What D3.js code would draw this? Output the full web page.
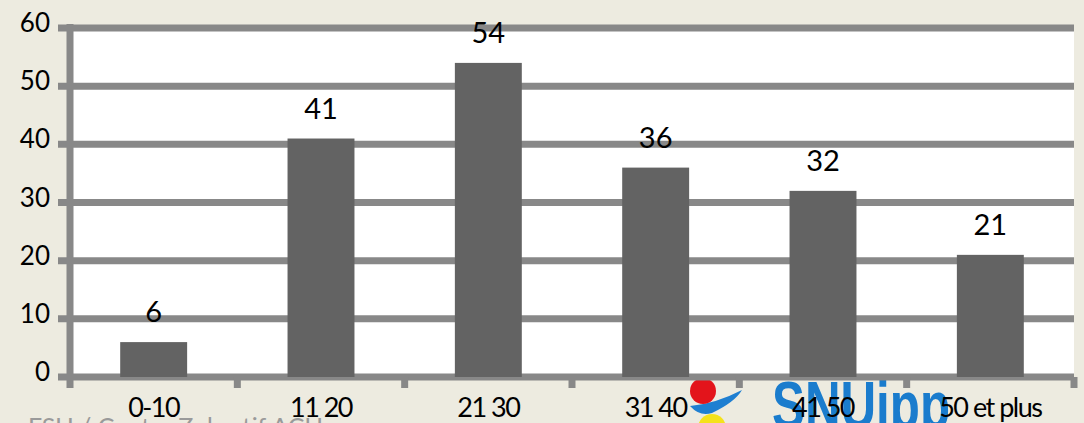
<!DOCTYPE html>
<html>
<head>
<meta charset="utf-8">
<script src="https://cdn.jsdelivr.net/npm/d3@7"></script>
<style>
  html, body { margin: 0; padding: 0; background: #edebe0; }
  svg { display: block; }
</style>
</head>
<body>
<script>
// chart data
var categories = ["0-10", "11 20", "21 30", "31 40", "41 50", "50 et plus"];
var values = [6, 41, 54, 36, 32, 21];
var yTicks = [0, 10, 20, 30, 40, 50, 60];

var w = 1084, h = 423;
var plotLeft = 70, plotRight = 1074, plotTop = 28, plotBottom = 377;
var grid = "#888888", barColor = "#636363";
var font = "Lato, 'Open Sans', sans-serif";

var svg = d3.select("body").append("svg")
    .attr("width", w)
    .attr("height", h);

// scales
var x = d3.scaleBand()
    .domain(categories)
    .range([plotLeft, plotRight])
    .paddingInner(0.6)
    .paddingOuter(0.3);

var y = d3.scaleLinear()
    .domain([0, 60])
    .range([plotBottom, plotTop]);

// logo behind the labels (partly cut by the window)
var logo = svg.append("g");
logo.append("path")
    .attr("d", "M690,406 Q715,404 742,390 Q735,402 712,413 Q700,417 690,406 Z")
    .attr("fill", "#1f7fd1");
logo.append("circle").attr("cx", 712).attr("cy", 428).attr("r", 14).attr("fill", "#f5e21b");
logo.append("circle").attr("cx", 703).attr("cy", 391).attr("r", 13).attr("fill", "#e3141b");
logo.append("text")
    .attr("x", 772).attr("y", 428)
    .attr("textLength", 178)
    .attr("lengthAdjust", "spacingAndGlyphs")
    .style("font-family", "'Liberation Sans', Arial, sans-serif")
    .style("font-weight", "bold")
    .style("font-size", "66px")
    .attr("fill", "#1a7ccd")
    .text("SNUipp");

// faint source line at the bottom
svg.append("text")
    .attr("x", 28).attr("y", 436)
    .style("font-family", font)
    .style("font-size", "25px")
    .attr("fill", "#9a9a9a")
    .text("FSU / Centre Zobratif ACU");

// plot area
svg.append("rect")
    .attr("x", plotLeft).attr("y", plotTop)
    .attr("width", plotRight - plotLeft).attr("height", plotBottom - plotTop)
    .attr("fill", "#ffffff");

// gridlines (stretch left to form the y ticks)
svg.selectAll("line.grid")
    .data(yTicks)
    .enter()
    .append("line")
    .attr("class", "grid")
    .attr("x1", plotLeft - 12)
    .attr("x2", plotRight)
    .attr("y1", function(d) { return y(d); })
    .attr("y2", function(d) { return y(d); })
    .attr("stroke", grid)
    .attr("stroke-width", 7);

// y axis line
svg.append("line")
    .attr("x1", plotLeft).attr("x2", plotLeft)
    .attr("y1", plotTop - 4).attr("y2", plotBottom + 11)
    .attr("stroke", grid)
    .attr("stroke-width", 7);

// category ticks at band edges
var edges = d3.range(1, categories.length + 1).map(function(i) { return plotLeft + i * x.step(); });
svg.selectAll("line.xtick")
    .data(edges)
    .enter()
    .append("line")
    .attr("class", "xtick")
    .attr("x1", function(d) { return Math.min(d, plotRight + 1); })
    .attr("x2", function(d) { return Math.min(d, plotRight + 1); })
    .attr("y1", plotBottom)
    .attr("y2", plotBottom + 11)
    .attr("stroke", grid)
    .attr("stroke-width", 7);

// bars
svg.selectAll("rect.bar")
    .data(values)
    .enter()
    .append("rect")
    .attr("class", "bar")
    .attr("x", function(d, i) { return x(categories[i]); })
    .attr("y", function(d) { return y(d); })
    .attr("width", x.bandwidth())
    .attr("height", function(d) { return y(0) - y(d); })
    .attr("fill", barColor);

// value labels
svg.selectAll("text.val")
    .data(values)
    .enter()
    .append("text")
    .attr("class", "val")
    .attr("x", function(d, i) { return x(categories[i]) + x.bandwidth() / 2; })
    .attr("y", function(d) { return y(d) - 20; })
    .attr("text-anchor", "middle")
    .style("font-family", font)
    .style("font-size", "29px")
    .attr("fill", "#000")
    .text(function(d) { return d; });

// y tick labels
svg.selectAll("text.ylab")
    .data(yTicks)
    .enter()
    .append("text")
    .attr("class", "ylab")
    .attr("x", 50)
    .attr("y", function(d) { return y(d) + 4; })
    .attr("text-anchor", "end")
    .style("font-family", font)
    .style("font-size", "26px")
    .attr("fill", "#000")
    .text(function(d) { return d; });

// x labels
svg.selectAll("text.xlab")
    .data(categories)
    .enter()
    .append("text")
    .attr("class", "xlab")
    .attr("x", function(d) { return x(d) + x.bandwidth() / 2; })
    .attr("y", 417)
    .attr("text-anchor", "middle")
    .style("font-family", font)
    .style("font-size", "27px")
    .style("letter-spacing", "-1.5px")
    .attr("fill", "#000")
    .text(function(d) { return d; });
</script>
</body>
</html>
